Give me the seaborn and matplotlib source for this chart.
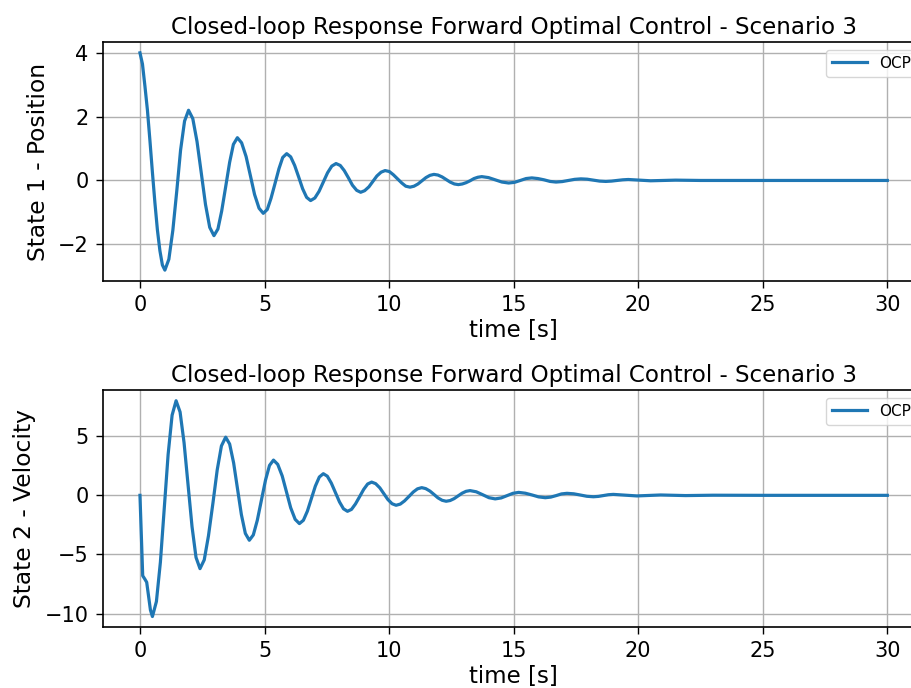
import pandas as pd
import matplotlib
matplotlib.use("Agg")
import matplotlib.pyplot as plt
import seaborn as sns

# state 1 (position)
time_pos = [0.0, 0.1, 0.2, 0.3, 0.4, 0.5, 0.6, 0.7, 0.8, 0.9, 1.0,
            1.16, 1.32, 1.48, 1.63, 1.79, 1.95,
            2.12, 2.29, 2.46, 2.63, 2.80, 2.97,
            3.13, 3.28, 3.44, 3.60, 3.75, 3.91,
            4.08, 4.26, 4.43, 4.60, 4.78, 4.95,
            5.11, 5.26, 5.42, 5.58, 5.73, 5.89,
            6.05, 6.21, 6.37, 6.53, 6.69, 6.85,
            7.02, 7.19, 7.36, 7.53, 7.70, 7.87,
            8.04, 8.20, 8.37, 8.53, 8.70, 8.86,
            9.02, 9.19, 9.35, 9.51, 9.68, 9.84,
            10.01, 10.17, 10.34, 10.51, 10.67, 10.84,
            11.00, 11.16, 11.32, 11.48, 11.64, 11.80,
            11.96, 12.13, 12.29, 12.45, 12.62, 12.78,
            12.94, 13.09, 13.25, 13.41, 13.56, 13.72,
            13.99, 14.26, 14.53, 14.80,
            15.03, 15.27, 15.50, 15.73,
            15.97, 16.22, 16.46, 16.70,
            16.95, 17.20, 17.45, 17.70,
            17.95, 18.20, 18.45, 18.70,
            18.93, 19.15, 19.38, 19.60,
            20.50, 21.50, 22.50, 24.0, 26.0, 28.0, 30.0]
position = [4.00, 3.65, 2.95, 2.20, 1.25, 0.25, -0.70, -1.55, -2.20, -2.65, -2.81,
            -2.47, -1.56, -0.31, 0.95, 1.86, 2.20,
            1.94, 1.22, 0.24, -0.75, -1.47, -1.73,
            -1.52, -0.96, -0.20, 0.57, 1.13, 1.34,
            1.18, 0.75, 0.16, -0.44, -0.87, -1.03,
            -0.91, -0.56, -0.10, 0.37, 0.72, 0.84,
            0.74, 0.47, 0.11, -0.26, -0.53, -0.63,
            -0.55, -0.34, -0.05, 0.24, 0.45, 0.53,
            0.47, 0.31, 0.08, -0.15, -0.31, -0.37,
            -0.32, -0.20, -0.03, 0.14, 0.26, 0.31,
            0.28, 0.18, 0.05, -0.08, -0.18, -0.21,
            -0.18, -0.11, -0.01, 0.09, 0.16, 0.19,
            0.17, 0.11, 0.03, -0.05, -0.11, -0.13,
            -0.11, -0.07, -0.01, 0.06, 0.10, 0.12,
            0.09, 0.02, -0.05, -0.08,
            -0.06, 0.00, 0.06, 0.08,
            0.06, 0.02, -0.03, -0.05,
            -0.035, 0.00, 0.035, 0.05,
            0.04, 0.01, -0.02, -0.03,
            -0.02, 0.00, 0.02, 0.03,
            -0.01, 0.01, 0.00, 0.00, 0.00, 0.00, 0.00]

# state 2 (velocity)
time_vel = [0.0, 0.11, 0.2, 0.27, 0.35, 0.42, 0.5,
            0.66, 0.82, 0.975, 1.13, 1.29, 1.45,
            1.61, 1.77, 1.93, 2.09, 2.25, 2.41,
            2.58, 2.75, 2.93, 3.10, 3.27, 3.44,
            3.60, 3.76, 3.915, 4.07, 4.23, 4.39,
            4.55, 4.71, 4.875, 5.04, 5.20, 5.36,
            5.53, 5.71, 5.88, 6.05, 6.23, 6.40,
            6.56, 6.72, 6.88, 7.04, 7.20, 7.36,
            7.52, 7.68, 7.845, 8.01, 8.17, 8.33,
            8.49, 8.65, 8.815, 8.98, 9.14, 9.30,
            9.46, 9.63, 9.79, 9.95, 10.12, 10.28,
            10.45, 10.62, 10.795, 10.97, 11.14, 11.31,
            11.47, 11.64, 11.80, 11.96, 12.13, 12.29,
            12.45, 12.61, 12.77, 12.93, 13.09, 13.25,
            13.50, 13.76, 14.01, 14.26,
            14.50, 14.73, 14.97, 15.20,
            15.47, 15.74, 16.00, 16.27,
            16.49, 16.71, 16.92, 17.14,
            17.41, 17.67, 17.94, 18.20,
            18.40, 18.60, 18.80, 19.00,
            19.95, 20.90, 21.90, 23.0, 25.0, 27.5, 30.0]
velocity = [0.0, -6.8, -7.1, -7.35, -8.6, -9.7, -10.25,
            -8.98, -5.65, -1.10, 3.45, 6.78, 8.00,
            7.05, 4.45, 0.90, -2.65, -5.25, -6.20,
            -5.46, -3.42, -0.64, 2.14, 4.18, 4.92,
            4.34, 2.74, 0.56, -1.62, -3.22, -3.80,
            -3.35, -2.11, -0.41, 1.29, 2.53, 2.98,
            2.62, 1.64, 0.30, -1.05, -2.03, -2.39,
            -2.11, -1.34, -0.28, 0.78, 1.55, 1.83,
            1.62, 1.04, 0.24, -0.56, -1.14, -1.35,
            -1.19, -0.73, -0.12, 0.50, 0.96, 1.12,
            0.99, 0.63, 0.14, -0.35, -0.71, -0.84,
            -0.74, -0.47, -0.10, 0.28, 0.55, 0.65,
            0.57, 0.36, 0.08, -0.21, -0.42, -0.50,
            -0.44, -0.28, -0.05, 0.18, 0.34, 0.40,
            0.30, 0.05, -0.20, -0.30,
            -0.22, -0.03, 0.17, 0.25,
            0.18, 0.03, -0.13, -0.20,
            -0.15, -0.02, 0.12, 0.17,
            0.13, 0.03, -0.08, -0.12,
            -0.09, -0.02, 0.05, 0.08,
            -0.05, 0.03, -0.02, 0.01, 0.00, 0.00, 0.00]

title = "Closed-loop Response Forward Optimal Control - Scenario 3"

pos_df = pd.DataFrame({"time": time_pos, "value": position})
vel_df = pd.DataFrame({"time": time_vel, "value": velocity})

fig = plt.figure(figsize=(9.12, 6.88), dpi=100)
# axes run past the right edge, like the cropped original
ax1 = fig.add_axes([0.1125, 0.5916, 0.9014, 0.3474])
ax2 = fig.add_axes([0.1125, 0.0882, 0.9014, 0.345])

for ax, df, ylab, yt in [(ax1, pos_df, "State 1 - Position", [-2, 0, 2, 4]),
                         (ax2, vel_df, "State 2 - Velocity", [-10, -5, 0, 5])]:
    sns.lineplot(data=df, x="time", y="value", ax=ax, label="OCP",
                 color="#1f77b4", linewidth=2.3)
    ax.set_title(title, fontsize=16.6)
    ax.set_xlabel("time [s]", fontsize=16.5, labelpad=3)
    ax.set_ylabel(ylab, fontsize=16.8, labelpad=6)
    ax.set_xticks([0, 5, 10, 15, 20, 25, 30])
    ax.set_yticks(yt)
    ax.tick_params(labelsize=15, length=5, width=1, pad=5)
    ax.grid(True, color="#b0b0b0", linewidth=1)
    ax.legend(loc="upper right", fontsize=11, handlelength=2.3)
    ax.spines["right"].set_visible(False)
    for s in ["left", "top", "bottom"]:
        ax.spines[s].set_linewidth(1.2)

fig.savefig("out.png", dpi=100)
